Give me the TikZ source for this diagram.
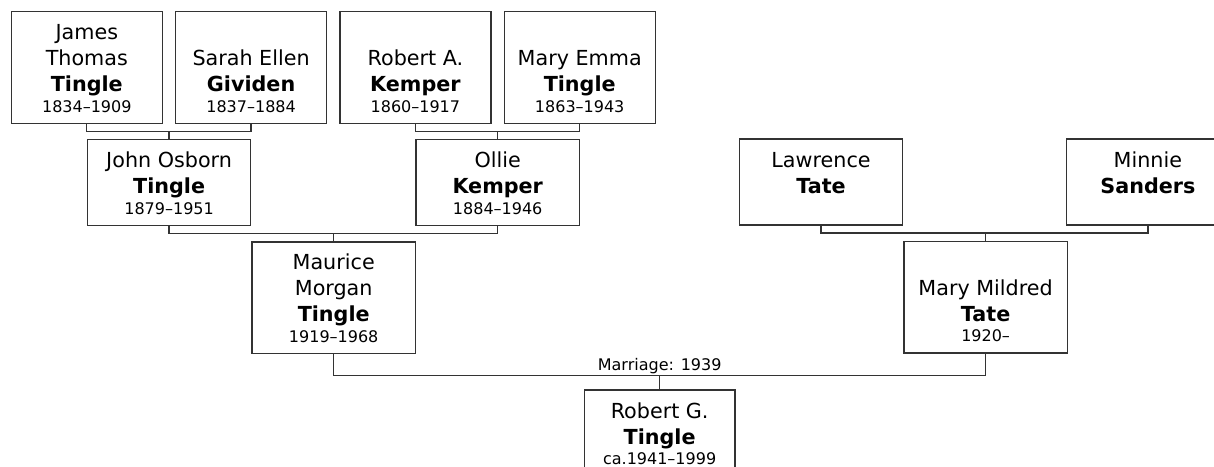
\documentclass[tikz,border=0pt]{standalone}
\usepackage{fontspec}
\setmainfont{DejaVu Sans}
\usetikzlibrary{positioning, calc}
\definecolor{boxline}{HTML}{333333}
\newcommand{\namefont}{\fontsize{20.7pt}{26pt}\selectfont}
\newcommand{\datefont}{\fontsize{16pt}{20.7pt}\selectfont}
% card text: width, height, lines (bottom aligned)
\newcommand{\famcard}[3]{\parbox[c][#2][b]{#1}{\centering\namefont #3\par\vspace{10.7pt}}}
\tikzset{
  % Person boxes
  person/.style={rectangle, draw=boxline, line width=1.3pt, inner sep=0pt},
  % Parent / child lines
  famline/.style={draw=boxline, line width=1.3pt},
  % Label on the marriage line
  marriage/.style={font=\datefont, inner sep=0.6pt, text=black},
}
\begin{document}
\begin{tikzpicture}[x=1pt, y=-1pt]
  \useasboundingbox (0,0) rectangle (1214,466);
  \clip (0,0) rectangle (1214,466);

  % Great-grandparents
  \node[person] (james) at (86.8,67.5) {\famcard{151pt}{111.6pt}{James\\Thomas\\\textbf{Tingle}\par{\datefont 1834–1909\par}}};
  \node[person, right=12pt of james] (sarah) {\famcard{151pt}{111.6pt}{Sarah Ellen\\\textbf{Gividen}\par{\datefont 1837–1884\par}}};
  \node[person, right=12pt of sarah] (roberta) {\famcard{151pt}{111.6pt}{Robert A.\\\textbf{Kemper}\par{\datefont 1860–1917\par}}};
  \node[person, right=12pt of roberta] (maryemma) {\famcard{151pt}{111.6pt}{Mary Emma\\\textbf{Tingle}\par{\datefont 1863–1943\par}}};

  % Grandparents
  \node[person, anchor=north west] (john) at ([yshift=-15pt]james.south) {\famcard{163.3pt}{86pt}{John Osborn\\\textbf{Tingle}\par{\datefont 1879–1951\par}}};
  \node[person, anchor=north west] (ollie) at ([yshift=-15pt]roberta.south) {\famcard{163.3pt}{86pt}{Ollie\\\textbf{Kemper}\par{\datefont 1884–1946\par}}};
  \node[person, anchor=north west] (lawrence) at (738.7,138.3) {\famcard{163.3pt}{86pt}{Lawrence\\\textbf{Tate}\par{\datefont\mbox{}\par}}};
  \node[person, right=162.3pt of lawrence] (minnie) {\famcard{163.3pt}{86pt}{Minnie\\\textbf{Sanders}\par{\datefont\mbox{}\par}}};

  % Parents
  \node[person, anchor=north west] (maurice) at ([yshift=-15pt]john.south east) {\famcard{163.3pt}{111.6pt}{Maurice\\Morgan\\\textbf{Tingle}\par{\datefont 1919–1968\par}}};
  \node[person, anchor=north west] (mildred) at ([yshift=-15pt]lawrence.south east) {\famcard{163.3pt}{111.6pt}{Mary Mildred\\\textbf{Tate}\par{\datefont 1920–\par}}};

  % Child
  \node[person, anchor=north] (robertg) at ([yshift=-35.4pt]$(maurice.south)!.5!(mildred.south)$) {\famcard{150.6pt}{86pt}{Robert G.\\\textbf{Tingle}\par{\datefont ca.1941–1999\par}}};

  % Lines
  \draw[famline] (james.south) -- ++(0,7.5) -| (sarah.south) (john.north) -- ++(0,-7.5);
  \draw[famline] (roberta.south) -- ++(0,7.5) -| (maryemma.south) (ollie.north) -- ++(0,-7.5);
  \draw[famline] (john.south) -- ++(0,7.5) -| (ollie.south) (maurice.north) -- ++(0,-7.5);
  \draw[famline] (lawrence.south) -- ++(0,7.5) -| (minnie.south) (mildred.north) -- ++(0,-7.5);
  \draw[famline] (maurice.south) -- ++(0,21) -| (mildred.south)
    node[marriage, pos=0.25, above] {Marriage: 1939}
    (robertg.north) -- ++(0,-14.4);
\end{tikzpicture}
\end{document}
